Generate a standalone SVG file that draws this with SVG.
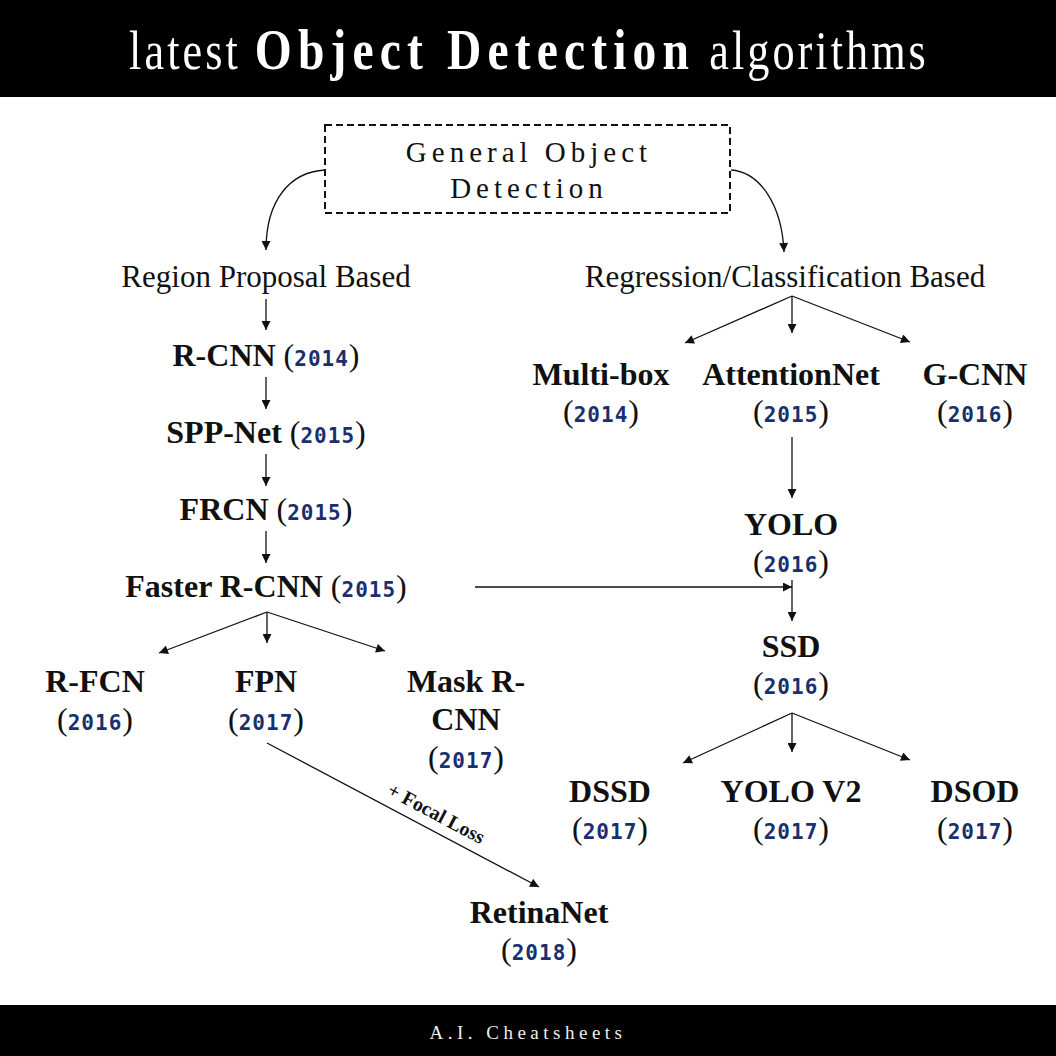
<svg xmlns="http://www.w3.org/2000/svg" width="1056" height="1056" viewBox="0 0 1056 1056">
<defs>
<style>
.band{fill:#000}
.title{font-family:"Liberation Serif","Times New Roman",serif;font-size:54px;fill:#fff;letter-spacing:3.7px}
.tb{font-weight:bold;font-size:58px;letter-spacing:7.5px}
.foot{font-family:"Liberation Serif","Times New Roman",serif;font-size:19px;fill:#eee;letter-spacing:4.5px}
.gen{font-family:"Liberation Serif","Times New Roman",serif;font-size:29px;fill:#111;letter-spacing:5px}
.cat{font-family:"Liberation Serif","Times New Roman",serif;font-size:31px;fill:#111}
.nm{font-family:"Liberation Serif","Times New Roman",serif;font-size:32px;font-weight:bold;fill:#111}
.p{font-weight:normal}
.yr{font-family:"DejaVu Sans Mono","Liberation Mono",monospace;font-size:21px;font-weight:bold;fill:#1a2f6e;letter-spacing:1px}
.lbl{font-family:"Liberation Serif","Times New Roman",serif;font-size:20px;font-weight:bold;fill:#111}
.c{fill:none;stroke:#111;stroke-width:1.3;marker-end:url(#ah)}
</style>
<marker id="ah" viewBox="0 0 10 10" refX="10" refY="5" markerWidth="10" markerHeight="9" markerUnits="userSpaceOnUse" orient="auto">
<path d="M0,0 L10,5 L0,10 Z" fill="#111"/>
</marker>
</defs>
<rect width="1056" height="1056" fill="#fff"/>
<g id="header">
<rect class="band" x="0" y="0" width="1056" height="97"/>
<text class="title" transform="translate(529,69) scale(0.82,1)" x="0" y="0" text-anchor="middle">latest <tspan class="tb">Object Detection</tspan> algorithms</text>
</g>
<g id="footer">
<rect class="band" x="0" y="1005" width="1056" height="51"/>
<text class="foot" x="528" y="1039" text-anchor="middle">A.I. Cheatsheets</text>
</g>
<g id="general">
<rect x="325" y="125" width="405" height="88" fill="none" stroke="#111" stroke-width="2" stroke-dasharray="7,4"/>
<text class="gen" x="529" y="162" text-anchor="middle">General Object</text>
<text class="gen" x="529" y="198" text-anchor="middle">Detection</text>
</g>
<g id="region"><text class="cat" x="266" y="287" text-anchor="middle">Region Proposal Based</text></g>
<g id="regression"><text class="cat" x="785" y="287" text-anchor="middle">Regression/Classification Based</text></g>
<g id="rcnn"><text class="nm" x="266" y="366" text-anchor="middle">R-CNN <tspan class="p">(</tspan><tspan class="yr">2014</tspan><tspan class="p">)</tspan></text></g>
<g id="sppnet"><text class="nm" x="266" y="443" text-anchor="middle">SPP-Net <tspan class="p">(</tspan><tspan class="yr">2015</tspan><tspan class="p">)</tspan></text></g>
<g id="frcn"><text class="nm" x="266" y="520" text-anchor="middle">FRCN <tspan class="p">(</tspan><tspan class="yr">2015</tspan><tspan class="p">)</tspan></text></g>
<g id="fasterrcnn"><text class="nm" x="266" y="597" text-anchor="middle">Faster R-CNN <tspan class="p">(</tspan><tspan class="yr">2015</tspan><tspan class="p">)</tspan></text></g>
<g id="rfcn"><text class="nm" x="95" y="692" text-anchor="middle">R-FCN</text><text class="nm p" x="95" y="730" text-anchor="middle">(<tspan class="yr">2016</tspan>)</text></g>
<g id="fpn"><text class="nm" x="266" y="692" text-anchor="middle">FPN</text><text class="nm p" x="266" y="730" text-anchor="middle">(<tspan class="yr">2017</tspan>)</text></g>
<g id="maskrcnn"><text class="nm" x="466" y="692" text-anchor="middle">Mask R-</text><text class="nm" x="466" y="730" text-anchor="middle">CNN</text><text class="nm p" x="466" y="768" text-anchor="middle">(<tspan class="yr">2017</tspan>)</text></g>
<g id="retinanet"><text class="nm" x="539" y="923" text-anchor="middle">RetinaNet</text><text class="nm p" x="539" y="960" text-anchor="middle">(<tspan class="yr">2018</tspan>)</text></g>
<g id="multibox"><text class="nm" x="601" y="385" text-anchor="middle">Multi-box</text><text class="nm p" x="601" y="422" text-anchor="middle">(<tspan class="yr">2014</tspan>)</text></g>
<g id="attentionnet"><text class="nm" x="791" y="385" text-anchor="middle">AttentionNet</text><text class="nm p" x="791" y="422" text-anchor="middle">(<tspan class="yr">2015</tspan>)</text></g>
<g id="gcnn"><text class="nm" x="975" y="385" text-anchor="middle">G-CNN</text><text class="nm p" x="975" y="422" text-anchor="middle">(<tspan class="yr">2016</tspan>)</text></g>
<g id="yolo"><text class="nm" x="791" y="535" text-anchor="middle">YOLO</text><text class="nm p" x="791" y="572" text-anchor="middle">(<tspan class="yr">2016</tspan>)</text></g>
<g id="ssd"><text class="nm" x="791" y="657" text-anchor="middle">SSD</text><text class="nm p" x="791" y="694" text-anchor="middle">(<tspan class="yr">2016</tspan>)</text></g>
<g id="dssd"><text class="nm" x="610" y="802" text-anchor="middle">DSSD</text><text class="nm p" x="610" y="839" text-anchor="middle">(<tspan class="yr">2017</tspan>)</text></g>
<g id="yolov2"><text class="nm" x="791" y="802" text-anchor="middle">YOLO V2</text><text class="nm p" x="791" y="839" text-anchor="middle">(<tspan class="yr">2017</tspan>)</text></g>
<g id="dsod"><text class="nm" x="975" y="802" text-anchor="middle">DSOD</text><text class="nm p" x="975" y="839" text-anchor="middle">(<tspan class="yr">2017</tspan>)</text></g>
<g id="connectors">
<path class="c" d="M325,170 C290,172 266,200 266,250"/>
<path class="c" d="M731,170 C760,172 782,205 784,252"/>
<path class="c" d="M266,299 L266,330"/>
<path class="c" d="M266,377 L266,409"/>
<path class="c" d="M266,454 L266,486"/>
<path class="c" d="M266,531 L266,563"/>
<path class="c" d="M267,612 L159,653"/>
<path class="c" d="M267,612 L267,643"/>
<path class="c" d="M267,612 L385,651"/>
<path class="c" d="M267,743 L539,887"/>
<path class="c" d="M792,296 L685,343"/>
<path class="c" d="M792,296 L792,333"/>
<path class="c" d="M792,296 L910,342"/>
<path class="c" d="M792,437 L792,498"/>
<path class="c" d="M475,587 L792,587"/>
<path class="c" d="M792,580 L792,621"/>
<path class="c" d="M792,713 L683,763"/>
<path class="c" d="M792,713 L792,752"/>
<path class="c" d="M792,713 L910,760"/>
<text class="lbl" transform="translate(436,814) rotate(28)" x="0" y="6" text-anchor="middle">+ Focal Loss</text>
</g>
</svg>
